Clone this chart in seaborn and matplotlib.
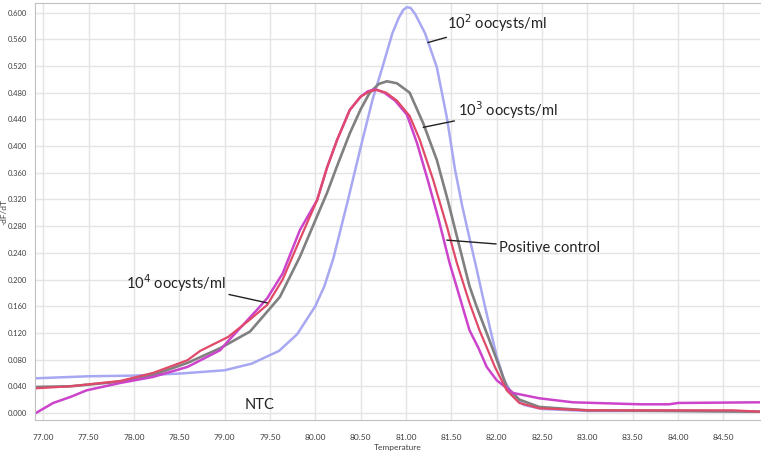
import numpy as np
import pandas as pd
import matplotlib
matplotlib.use("Agg")
import matplotlib.pyplot as plt
from matplotlib.ticker import MultipleLocator, FormatStrFormatter
import seaborn as sns

# melt curve readings (temperature, -dF/dT)
t_1e2 = [76.92, 77.5, 78.0, 78.5, 79.0, 79.3, 79.6, 79.8, 80.0, 80.1, 80.2, 80.36, 80.5, 80.63, 80.74,
         80.85, 80.92, 80.97, 81.01, 81.05, 81.10, 81.21, 81.34, 81.45, 81.54, 81.62, 81.70, 81.78, 81.85, 81.93,
         82.0, 82.08, 82.18, 82.3, 82.5, 83.0, 84.0, 84.9]
y_1e2 = [0.052, 0.055, 0.056, 0.059, 0.064, 0.074, 0.093, 0.118, 0.160, 0.190, 0.232, 0.319, 0.398, 0.469, 0.518,
         0.569, 0.592, 0.604, 0.608, 0.607, 0.598, 0.569, 0.518, 0.443, 0.365, 0.310, 0.262, 0.215, 0.172, 0.125,
         0.085, 0.050, 0.025, 0.012, 0.006, 0.003, 0.003, 0.002]

t_1e3 = [76.92, 77.3, 77.85, 78.21, 78.59, 78.95, 79.28, 79.61, 79.83, 80.02, 80.13, 80.24, 80.38, 80.50,
         80.60, 80.70, 80.79, 80.90, 81.04, 81.19, 81.34, 81.46, 81.59, 81.70, 81.78, 81.92, 82.03,
         82.11, 82.25, 82.47, 83.0, 84.0, 84.9]
y_1e3 = [0.039, 0.040, 0.047, 0.057, 0.075, 0.097, 0.122, 0.174, 0.234, 0.295, 0.330, 0.370, 0.419, 0.455,
         0.480, 0.493, 0.497, 0.494, 0.480, 0.434, 0.379, 0.319, 0.249, 0.190, 0.159, 0.109, 0.069,
         0.039, 0.020, 0.009, 0.004, 0.003, 0.002]

t_1e4 = [76.92, 77.3, 77.85, 78.21, 78.59, 78.73, 79.04, 79.28, 79.47, 79.64, 79.83, 80.02, 80.13, 80.24,
         80.38, 80.50, 80.60, 80.68, 80.78, 80.90, 81.04, 81.15, 81.30, 81.45, 81.56, 81.70, 81.81,
         81.90, 81.98, 82.11, 82.25, 82.47, 83.0, 84.0, 84.6, 84.9]
y_1e4 = [0.037, 0.040, 0.048, 0.060, 0.079, 0.093, 0.114, 0.140, 0.162, 0.200, 0.260, 0.319, 0.368, 0.409,
         0.454, 0.474, 0.482, 0.484, 0.480, 0.468, 0.445, 0.410, 0.349, 0.280, 0.225, 0.165, 0.124,
         0.095, 0.069, 0.034, 0.015, 0.007, 0.004, 0.004, 0.004, 0.002]

t_pos = [76.92, 77.11, 77.30, 77.48, 77.85, 78.21, 78.59, 78.95, 79.04, 79.36, 79.47, 79.64, 79.83, 80.02,
         80.13, 80.24, 80.38, 80.50, 80.58, 80.66, 80.76, 80.88, 81.01, 81.12, 81.24, 81.36, 81.48,
         81.60, 81.70, 81.80, 81.89, 82.0, 82.18, 82.47, 82.84, 83.58, 83.9, 84.0, 84.9]
y_pos = [0.000, 0.015, 0.024, 0.034, 0.045, 0.054, 0.069, 0.094, 0.108, 0.155, 0.172, 0.209, 0.274, 0.319,
         0.368, 0.409, 0.454, 0.474, 0.482, 0.485, 0.480, 0.468, 0.447, 0.405, 0.349, 0.290, 0.225,
         0.170, 0.124, 0.097, 0.069, 0.049, 0.030, 0.022, 0.016, 0.013, 0.013, 0.015, 0.016]

sns.set_style("white")
plt.rcParams['font.family'] = ['Lato', 'DejaVu Sans']

fig = plt.figure(figsize=(7.62, 4.58), dpi=100)
ax = fig.add_axes([0.046, 0.083, 0.951, 0.910])

sns.lineplot(x=t_1e2, y=y_1e2, color='#a8a8f2', lw=1.8, sort=False, ax=ax)
sns.lineplot(x=t_1e3, y=y_1e3, color='#808080', lw=1.9, sort=False, ax=ax)
sns.lineplot(x=t_pos, y=y_pos, color='#cc44cc', lw=1.8, sort=False, ax=ax)
sns.lineplot(x=t_1e4, y=y_1e4, color='#e04a68', lw=1.6, sort=False, ax=ax)

ax.set_xlim(76.91, 84.9)
ax.set_ylim(-0.0105, 0.614)
ax.xaxis.set_major_locator(MultipleLocator(0.5))
ax.xaxis.set_minor_locator(MultipleLocator(0.1))
ax.yaxis.set_major_locator(MultipleLocator(0.04))
ax.yaxis.set_minor_locator(MultipleLocator(0.008))
ax.xaxis.set_major_formatter(FormatStrFormatter('%.2f'))
ax.yaxis.set_major_formatter(FormatStrFormatter('%.3f'))
ax.grid(True, which='major', color='#e4e4e4', lw=1)
ax.tick_params(which='both', direction='out', color='#b0b0b0', labelcolor='#404040', labelsize=6)
ax.tick_params(which='major', length=4)
ax.tick_params(which='minor', length=2.5)
ax.tick_params(axis='x', pad=6)
ax.tick_params(axis='y', pad=1.5, labelsize=5.5)
for s in ['left', 'bottom', 'top']:
    ax.spines[s].set_color('#c0c0c0')
ax.spines['right'].set_visible(False)
ax.set_xlabel('Temperature', fontsize=6, color='#404040', labelpad=2)
ax.set_ylabel('-dF/dT', fontsize=6, color='#404040')
ax.yaxis.set_label_coords(-0.0375, 0.5)
ax.set_axisbelow(True)

lab = dict(fontsize=10.5, color='#222222', va='center', ha='left')
ax.annotate('10$^{2}$ oocysts/ml', xy=(81.24, 0.555), xytext=(81.45, 0.584),
            arrowprops=dict(arrowstyle='-', color='#222222', lw=1, shrinkA=0, shrinkB=0), **lab)
ax.annotate('10$^{3}$ oocysts/ml', xy=(81.19, 0.428), xytext=(81.57, 0.454),
            arrowprops=dict(arrowstyle='-', color='#222222', lw=1, shrinkA=0, shrinkB=0), **lab)
ax.annotate('Positive control', xy=(81.45, 0.259), xytext=(82.03, 0.247),
            arrowprops=dict(arrowstyle='-', color='#222222', lw=1, shrinkA=0, shrinkB=0), **lab)
ax.annotate('10$^{4}$ oocysts/ml', xy=(79.47, 0.165), xytext=(77.91, 0.195),
            arrowprops=dict(arrowstyle='-', color='#222222', lw=1, shrinkA=0, shrinkB=0), **lab)
ax.text(79.39, 0.012, 'NTC', fontsize=10.5, color='#222222', ha='center', va='center')

fig.savefig('out.png', dpi=100)
